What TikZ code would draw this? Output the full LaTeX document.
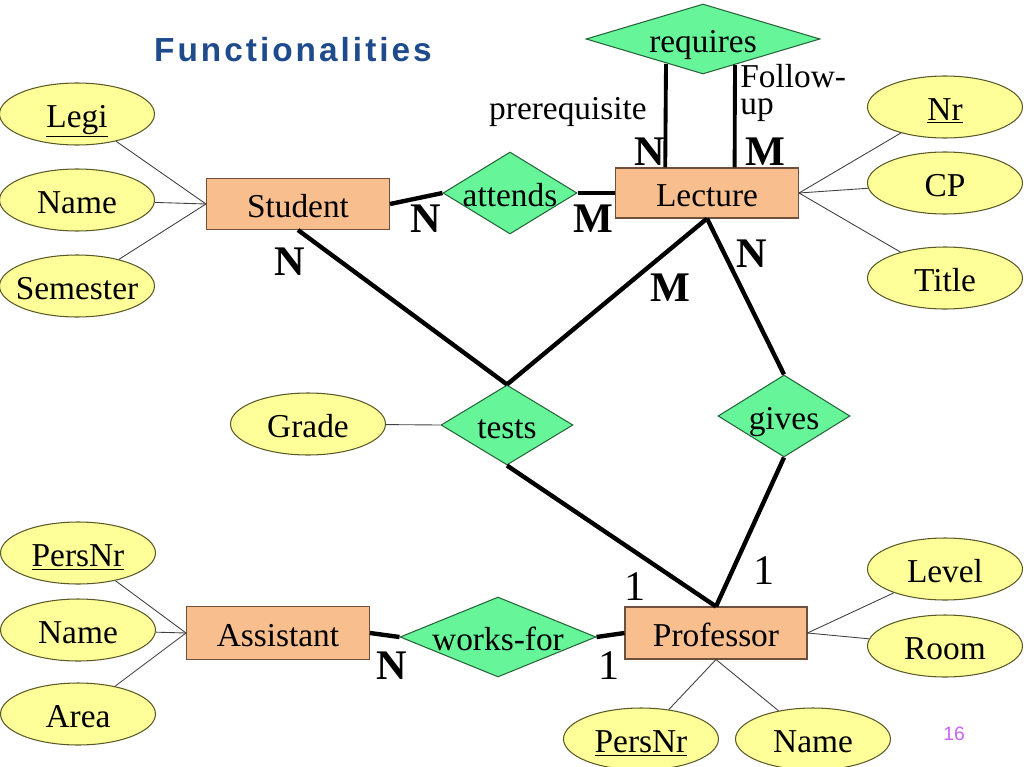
\documentclass[tikz,border=0pt]{standalone}
\usepackage{fontspec}
\setmainfont{Liberation Serif}
\newfontfamily\titlefont[LetterSpace=9]{Liberation Sans}
\newfontfamily\pagenumfont{Liberation Sans}
\usetikzlibrary{shapes.geometric,calc}
\definecolor{attrfill}{RGB}{255,255,153}
\definecolor{attrdraw}{RGB}{90,90,40}
\definecolor{entfill}{RGB}{248,190,142}
\definecolor{entdraw}{RGB}{110,80,60}
\definecolor{relfill}{RGB}{102,245,152}
\definecolor{reldraw}{RGB}{40,100,60}
\definecolor{titleblue}{RGB}{31,75,140}
\definecolor{pagenum}{RGB}{200,100,250}
\newcommand\lblfont{\fontsize{19}{22}\selectfont}
\newcommand\cardbf{\fontsize{24}{26}\selectfont\bfseries}
\newcommand\cardrm{\fontsize{24}{26}\selectfont}
\begin{document}
\begin{tikzpicture}[x=0.02cm,y=-0.02cm,
  captext/.style={text height=15pt, text depth=0pt},
  ent/.style={rectangle, draw=entdraw, fill=entfill, minimum width=3.66cm, minimum height=1.02cm, inner sep=0pt, font=\lblfont, line width=0.6pt, captext},
  attr/.style={ellipse, draw=attrdraw, fill=attrfill, minimum width=3.1cm, minimum height=1.24cm, inner sep=0pt, line width=0.6pt, label={[font=\lblfont, inner sep=0pt, captext]center:#1}},
  rel/.style={diamond, draw=reldraw, fill=relfill, inner sep=0pt, line width=0.6pt, label={[font=\lblfont, inner sep=0pt, captext]center:#1}},
  thinlink/.style={line width=0.5pt, draw=black!75},
  stronglink/.style={line width=2.5pt, draw=black},
  cardb/.style={font=\cardbf, inner sep=0pt},
  cardr/.style={font=\cardrm, inner sep=0pt},
  plain/.style={font=\lblfont, inner sep=0pt}
]
\useasboundingbox (0,0) rectangle (1024,767);

% title
\node[font=\titlefont\fontsize{19}{21}\selectfont\bfseries, text=titleblue, inner sep=0pt] (title) at (293,50) {Functionalities};

% entities
\node[ent] (student) at (298,204) {Student};
\node[ent, minimum height=1.0cm] (lecture) at (707,193) {Lecture};
\node[ent, minimum height=1.06cm] (assistant) at (278,633) {Assistant};
\node[ent, minimum width=3.64cm, minimum height=1.04cm] (professor) at (716,633) {Professor};

% relationships
\node[rel=requires, minimum width=4.68cm, minimum height=1.4cm] (requires) at (703,39) {};
\node[rel=attends, minimum width=2.68cm, minimum height=1.64cm] (attends) at (510,193) {};
\node[rel=tests, minimum width=2.64cm, minimum height=1.6cm] (tests) at (507,425) {};
\node[rel=gives, minimum width=2.64cm, minimum height=1.64cm] (gives) at (784,416) {};
\node[rel=works-for, minimum width=3.92cm, minimum height=1.6cm] (works) at (498,637) {};

% attributes
\node[attr={\underline{Legi}}] (legi) at (77,114) {};
\node[attr=Name] (sname) at (77,200) {};
\node[attr=Semester] (semester) at (77,286) {};
\node[attr={\underline{Nr}}] (nr) at (945,107) {};
\node[attr=CP] (cp) at (945,183) {};
\node[attr=Title] (ltitle) at (945,278) {};
\node[attr=Grade] (grade) at (308,424) {};
\node[attr={\underline{PersNr}}] (apersnr) at (78,553) {};
\node[attr=Name] (aname) at (78,630) {};
\node[attr=Area] (area) at (78,714) {};
\node[attr=Level] (level) at (945,569) {};
\node[attr=Room] (room) at (945,646) {};
\node[attr={\underline{PersNr}}] (ppersnr) at (641,739) {};
\node[attr=Name] (pname) at (813,739) {};

% attribute links
\draw[thinlink] (legi) -- (student.west);
\draw[thinlink] (sname) -- (student.west);
\draw[thinlink] (semester) -- (student.west);
\draw[thinlink] (nr) -- (lecture.east);
\draw[thinlink] (cp) -- (lecture.east);
\draw[thinlink] (ltitle) -- (lecture.east);
\draw[thinlink] (grade) -- (tests.west);
\draw[thinlink] (apersnr) -- (assistant.west);
\draw[thinlink] (aname) -- (assistant.west);
\draw[thinlink] (area) -- (assistant.west);
\draw[thinlink] (level) -- (professor.east);
\draw[thinlink] (room) -- (professor.east);
\draw[thinlink] (ppersnr) -- (professor.south);
\draw[thinlink] (pname) -- (professor.south);

% relationship links
\coordinate (lqa) at ($(lecture.north west)!0.273!(lecture.north east)$);
\coordinate (lqb) at ($(lecture.north west)!0.650!(lecture.north east)$);
\coordinate (rqa) at (666,64);
\coordinate (rqb) at (735,65);
\draw[stronglink, line width=2.2pt] (lqa) -- (rqa);
\draw[stronglink, line width=2.2pt] (lqb) -- (rqb);
\draw[stronglink] (student.east) -- (attends.west);
\draw[stronglink] (attends.east) -- (lecture.west);
\draw[stronglink] (student.south) -- (tests.north);
\draw[stronglink] (lecture.south) -- (tests.north);
\draw[stronglink] (lecture.south) -- (gives.north);
\draw[stronglink] (tests.south) -- (professor.north);
\draw[stronglink] (gives.south) -- (professor.north);
\draw[stronglink] (assistant.east) -- (works.west);
\draw[stronglink] (works.east) -- (professor.west);

% role labels
\node[plain] (prereq) at (568,112) {prerequisite};
\node[plain, anchor=north west, align=left, font=\fontsize{19}{15.5}\selectfont] (follow) at (740,64) {Follow-\\up};

% cardinalities
\node[cardb] (c1) at (426,219) {N};
\node[cardb] (c2) at (593,219) {M};
\node[cardb] (c3) at (650,152) {N};
\node[cardb] (c4) at (765,152) {M};
\node[cardb] (c5) at (290,262) {N};
\node[cardb] (c6) at (670,288) {M};
\node[cardb] (c7) at (752,254) {N};
\node[cardr] (c8) at (635,587) {1};
\node[cardr] (c9) at (764,571) {1};
\node[cardb] (c10) at (392,666) {N};
\node[cardr] (c11) at (609,666) {1};

% page number
\node[font=\pagenumfont\fontsize{11}{12}\selectfont, text=pagenum, inner sep=0pt] (pnum) at (954,734) {16};
\end{tikzpicture}
\end{document}
